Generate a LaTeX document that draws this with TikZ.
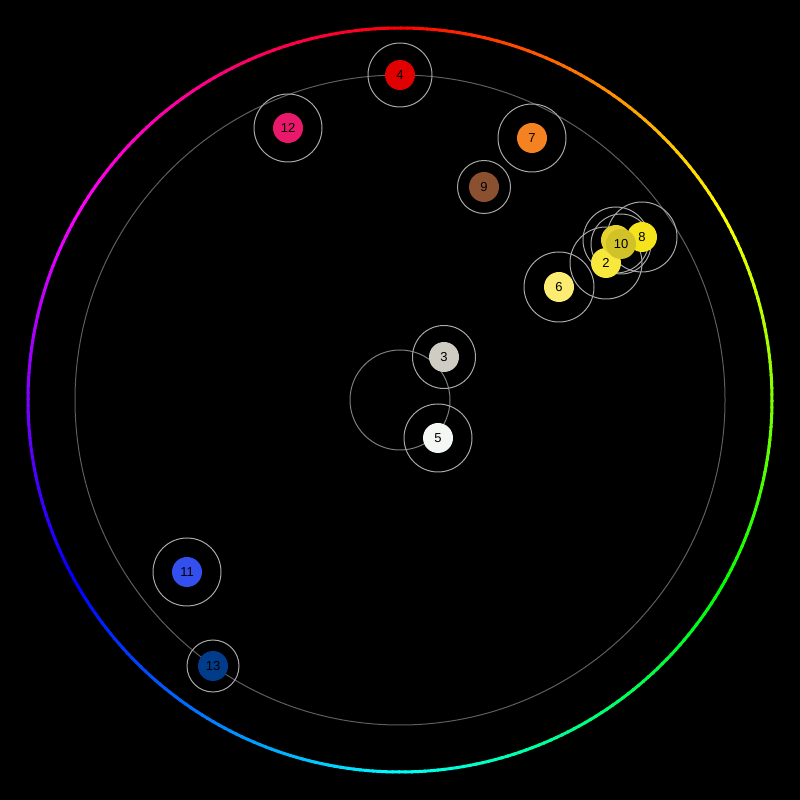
\documentclass[tikz,border=0pt]{standalone}
\usepackage{fontspec}
\setmainfont{Liberation Sans}
\usepackage{tikz}
\definecolor{c1}{HTML}{E6D22E}
\definecolor{c2}{HTML}{F8E73C}
\definecolor{c3}{HTML}{CFCCC4}
\definecolor{c4}{HTML}{E00000}
\definecolor{c5}{HTML}{F4F8F4}
\definecolor{c6}{HTML}{FCEC72}
\definecolor{c7}{HTML}{F58220}
\definecolor{c8}{HTML}{F5E31C}
\definecolor{c9}{HTML}{8B5030}
\definecolor{c10}{HTML}{D2C22A}
\definecolor{c11}{HTML}{3350EE}
\definecolor{c12}{HTML}{E8196B}
\definecolor{c13}{HTML}{003C8A}
\definecolor{ringgray}{HTML}{A8A8A8}
\definecolor{orbitgray}{HTML}{5E5E5E}
\begin{document}
\begin{tikzpicture}[x=1pt, y=1pt,
    main/.style = {circle, inner sep=0pt, minimum size=30pt, font=\fontsize{13}{15}\selectfont, text=black},
    ring/.style = {draw=ringgray, line width=1pt},
    orbit/.style = {draw=orbitgray, line width=1pt}]
    \fill[black] (0,0) rectangle (800,800);
    \coordinate (c) at (400,400);
    % hue wheel
    \foreach \h in {0,...,359} {
        \definecolor{hue}{Hsb}{\h,1,1}
        \draw[hue, line width=3pt] (c) ++(90-\h:372) arc[start angle=90-\h, end angle=89-\h-0.3, radius=372];
    }
    \draw[orbit] (c) circle (325);
    \draw[orbit, draw=orbitgray!80] (c) circle (50);
    % rings
    \foreach \p/\r in {{400,725}/32, {288,672}/34, {532,662}/34, {484,613}/26.5,
                       {616,560}/33, {621,556}/30, {642,563}/35, {606,537}/36,
                       {559,513}/35, {444,443}/31.5, {438,362}/34, {187,228}/34, {213,134}/26}
        \draw[ring] (\p) circle (\r);
    % nodes
    \node[main, fill=c4] (4) at (400,725) {4};
    \node[main, fill=c12] (12) at (288,672) {12};
    \node[main, fill=c7] (7) at (532,662) {7};
    \node[main, fill=c9] (9) at (484,613) {9};
    \node[main, fill=c6] (6) at (559,513) {6};
    \node[main, fill=c2] (2) at (606,537) {2};
    \node[main, fill=c8] (8) at (642,563) {8};
    \node[main, fill=c1] (1) at (616,560) {};
    \node[main, fill=c10] (10) at (621,556) {10};
    \node[main, fill=c3] (3) at (444,443) {3};
    \node[main, fill=c5] (5) at (438,362) {5};
    \node[main, fill=c11] (11) at (187,228) {11};
    \node[main, fill=c13] (13) at (213,134) {13};
\end{tikzpicture}
\end{document}
